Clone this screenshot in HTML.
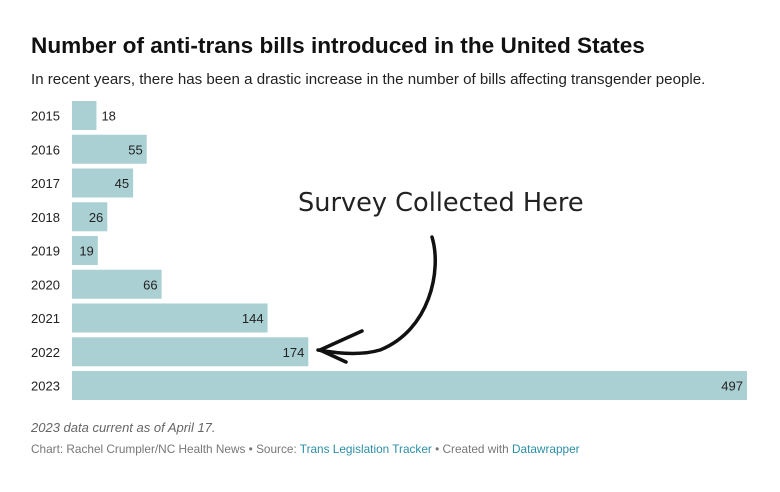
<!DOCTYPE html>
<html><head><meta charset="utf-8"><style>
body{margin:0;background:#fff;width:780px;height:492px;overflow:hidden;font-family:"Liberation Sans",sans-serif;}
#title{position:absolute;left:31px;top:33px;font-size:22.6px;font-weight:bold;color:#111;letter-spacing:0}
#sub{position:absolute;left:31px;top:71px;font-size:15.1px;color:#222}
#note{position:absolute;left:31px;top:420px;font-size:13px;font-style:italic;color:#666}
#src{position:absolute;left:31px;top:442px;font-size:11.8px;color:#777}
#src a{color:#2b8ea6;text-decoration:none}
svg{position:absolute;left:0;top:0}
</style></head><body>
<div id="title">Number of anti-trans bills introduced in the United States</div>
<div id="sub">In recent years, there has been a drastic increase in the number of bills affecting transgender people.</div>
<svg id="chart" width="780" height="492">
<text x="298" y="211" font-family="DejaVu Sans, sans-serif" font-size="25.6" font-weight="normal" fill="#222">Survey Collected Here</text>
<path d="M432,237 C442,270 430,330 380,350 C360,356 335,353 318,350" fill="none" stroke="#111" stroke-width="3.5" stroke-linecap="round"/>
<path d="M362,331 L320,350 L346,362" fill="none" stroke="#111" stroke-width="3.5" stroke-linecap="round" stroke-linejoin="round"/>
</svg>
<div id="note">2023 data current as of April 17.</div>
<div id="src">Chart: Rachel Crumpler/NC Health News • Source: <a>Trans Legislation Tracker</a> • Created with <a>Datawrapper</a></div>
<script>
const years=["2015","2016","2017","2018","2019","2020","2021","2022","2023"];
const bills=[18,55,45,26,19,66,144,174,497];
const NS="http://www.w3.org/2000/svg";
const svg=document.getElementById('chart');
const x0=72,x1=747,maxV=497;
const xs=v=>x0+(x1-x0)*v/maxV;
const ys=i=>101+i*33.75;
const bh=29;
years.forEach((yr,i)=>{
  const y=ys(i);
  const r=document.createElementNS(NS,'rect');
  r.setAttribute('x',x0);r.setAttribute('y',y);r.setAttribute('width',xs(bills[i])-x0);r.setAttribute('height',bh);r.setAttribute('fill','#abd0d3');
  
  
  svg.insertBefore(r,svg.firstChild);
  const t=document.createElementNS(NS,'text');
  t.setAttribute('x',31);t.setAttribute('y',y+bh/2+5);t.setAttribute('font-size','13');t.setAttribute('fill','#222');
  t.textContent=yr;
  
  
  svg.appendChild(t);
  const v=document.createElementNS(NS,'text');
  const outside=xs(bills[i])-x0<25;
  v.setAttribute('x',outside?xs(bills[i])+5:xs(bills[i])-4);
  v.setAttribute('text-anchor',outside?'start':'end');
  v.setAttribute('y',y+bh/2+5);v.setAttribute('font-size','13');v.setAttribute('fill','#222');
  v.textContent=bills[i];
  
  
  svg.appendChild(v);
});
</script>
</body></html>
